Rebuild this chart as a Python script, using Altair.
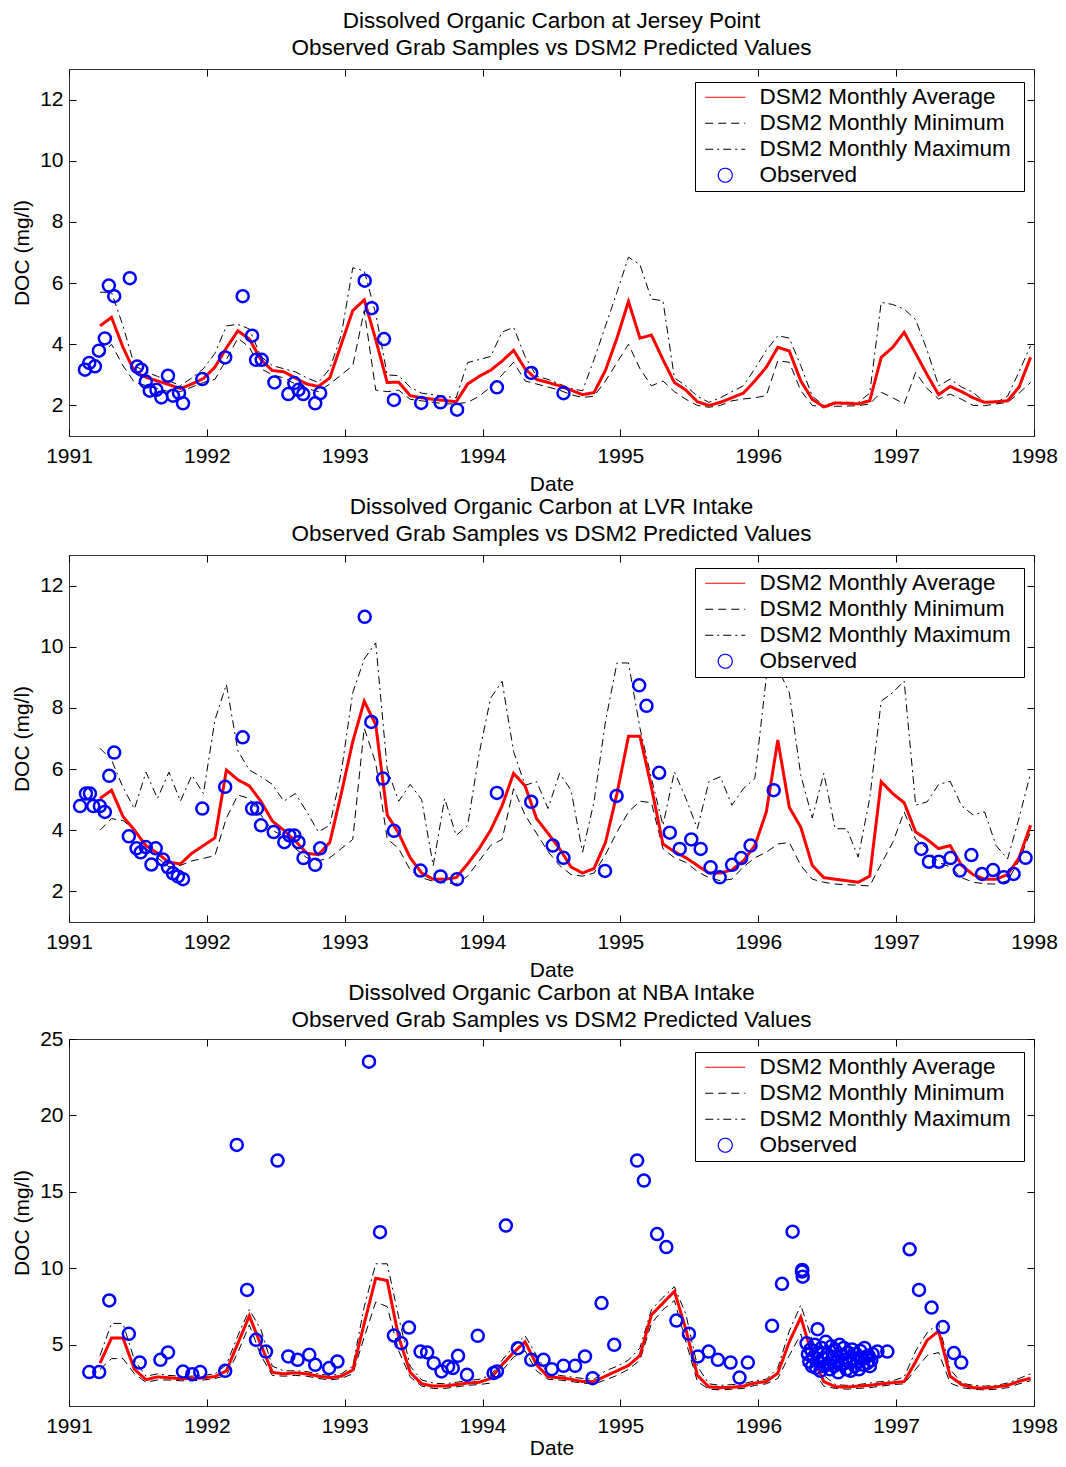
import altair as alt
import pandas as pd

# ---------------- data ----------------
SERIES = ["DSM2 Monthly Average", "DSM2 Monthly Minimum", "DSM2 Monthly Maximum", "Observed"]

# monthly model output times (decimal years)
MONTH_T = [1991 + (i + 2.7) / 12 for i in range(82)]

JP_AVG = [4.6, 4.88, 3.9, 3.1, 2.92, 2.8, 2.68, 2.55, 2.7, 2.88,
          3.25, 3.88, 4.44, 4.17, 3.5, 3.14, 3.1, 2.9, 2.7, 2.62,
          2.9, 4.0, 5.1, 5.45, 4.15, 2.75, 2.76, 2.32, 2.25, 2.2,
          2.16, 2.12, 2.7, 2.95, 3.15, 3.45, 3.8, 3.2, 2.85, 2.75,
          2.64, 2.5, 2.35, 2.42, 3.15, 4.2, 5.4, 4.2, 4.3, 3.5,
          2.75, 2.5, 2.12, 2.0, 2.1, 2.25, 2.4, 2.8, 3.25, 3.9,
          3.78, 2.8, 2.2, 1.95, 2.08, 2.07, 2.05, 2.15, 3.57, 3.9,
          4.39, 3.7, 3.0, 2.35, 2.62, 2.45, 2.25, 2.1, 2.12, 2.15,
          2.6, 3.57]
JP_MIN = [3.6, 4.0, 3.3, 2.75, 2.65, 2.55, 2.45, 2.45, 2.6, 2.75,
          2.85, 3.5, 4.2, 3.9, 3.2, 3.0, 2.9, 2.7, 2.55, 2.45,
          2.7, 3.0, 3.3, 5.1, 2.5, 2.45, 2.5, 2.2, 2.15, 2.1,
          2.05, 2.05, 2.1, 2.3, 2.6, 3.0, 3.41, 2.8, 2.7, 2.6,
          2.5, 2.35, 2.26, 2.3, 2.8, 3.4, 4.0, 3.2, 2.64, 2.8,
          2.45, 2.2, 2.0, 1.94, 2.0, 2.15, 2.21, 2.25, 2.32, 3.46,
          3.41, 2.48, 2.0, 1.95, 1.97, 1.98, 1.99, 2.05, 2.43, 2.25,
          2.05, 3.08, 2.55, 2.21, 2.37, 2.2, 2.0, 1.99, 2.05, 2.1,
          2.4, 2.75]
JP_MAX = [5.7, 5.7, 4.6, 3.3, 3.1, 2.95, 2.8, 2.65, 2.9, 3.2,
          3.7, 4.6, 4.65, 4.5, 3.6, 3.3, 3.2, 3.1, 2.9, 2.75,
          3.2, 4.3, 6.5, 6.4, 5.0, 3.0, 2.97, 2.6, 2.4, 2.35,
          2.3, 2.25, 3.4, 3.5, 3.6, 4.4, 4.55, 3.6, 2.95, 2.85,
          2.7, 2.55, 2.48, 3.5, 4.6, 5.7, 6.85, 6.6, 5.48, 5.42,
          2.9, 2.64, 2.3, 2.1, 2.25, 2.45, 2.64, 3.2, 3.8, 4.28,
          4.2, 3.3, 2.3, 2.0, 2.1, 2.1, 2.1, 2.4, 5.37, 5.3,
          5.15, 4.8, 3.8, 2.64, 2.86, 2.6, 2.43, 2.1, 2.1, 2.3,
          3.1, 3.95]
JP_OBS_T = [1991.116, 1991.147, 1991.188, 1991.217, 1991.26, 1991.289, 1991.328, 1991.441,
            1991.494, 1991.525, 1991.557, 1991.586, 1991.634, 1991.67, 1991.718, 1991.754,
            1991.798, 1991.827, 1991.967, 1992.133, 1992.26, 1992.328, 1992.357, 1992.398,
            1992.49, 1992.591, 1992.634, 1992.665, 1992.699, 1992.786, 1992.822, 1993.145,
            1993.196, 1993.285, 1993.357, 1993.555, 1993.695, 1993.815, 1994.104, 1994.353,
            1994.587]
JP_OBS_V = [3.17, 3.39, 3.28, 3.79, 4.19, 5.92, 5.57, 6.16, 3.27, 3.17,
            2.78, 2.48, 2.51, 2.26, 2.97, 2.32, 2.41, 2.07, 2.86, 3.57,
            5.57, 4.28, 3.49, 3.49, 2.75, 2.37, 2.73, 2.51, 2.37, 2.07,
            2.40, 6.08, 5.18, 4.17, 2.18, 2.08, 2.10, 1.86, 2.59, 3.06,
            2.40]

LVR_AVG = [5.04, 5.31, 4.45, 4.0, 3.5, 3.25, 2.95, 2.9, 3.25, 3.5,
           3.75, 5.97, 5.65, 5.45, 4.95, 4.3, 4.0, 3.65, 3.25, 3.2,
           3.6, 5.2, 6.9, 8.22, 7.45, 4.5, 3.9, 3.1, 2.6, 2.4,
           2.4, 2.45, 2.9, 3.4, 4.0, 4.8, 5.86, 5.45, 4.38, 3.9,
           3.4, 2.8, 2.6, 2.75, 3.6, 5.2, 7.07, 7.07, 5.4, 3.55,
           3.3, 3.1, 2.85, 2.6, 2.6, 2.7, 3.0, 3.5, 4.6, 6.95,
           4.75, 4.1, 2.85, 2.45, 2.4, 2.35, 2.3, 2.5, 5.59, 5.2,
           4.9, 3.94, 3.7, 3.4, 3.5, 2.85, 2.55, 2.4, 2.4, 2.55,
           3.1, 4.16]
LVR_MIN = [4.0, 4.38, 4.32, 4.0, 3.4, 3.1, 2.8, 2.85, 3.0, 3.08,
           3.17, 4.4, 5.15, 5.04, 4.5, 4.0, 3.8, 3.4, 3.1, 3.0,
           3.1, 3.4, 3.7, 7.34, 6.2, 3.72, 3.4, 2.7, 2.45, 2.33,
           2.28, 2.25, 2.5, 3.0, 3.5, 3.7, 5.36, 4.5, 3.9, 3.3,
           2.85, 2.55, 2.5, 2.6, 3.2, 3.94, 4.6, 4.95, 4.9, 3.4,
           3.1, 2.95, 2.65, 2.45, 2.35, 2.4, 2.8, 3.1, 3.28, 3.55,
           3.6, 2.85, 2.4, 2.3, 2.24, 2.22, 2.2, 2.18, 2.9, 3.6,
           4.6, 3.7, 3.4, 2.95, 2.8, 2.45, 2.3, 2.25, 2.24, 2.35,
           3.0, 3.94]
LVR_MAX = [6.68, 6.3, 5.4, 4.7, 5.9, 5.04, 5.9, 4.95, 5.8, 5.2,
           7.6, 8.77, 6.6, 5.97, 5.75, 5.5, 4.95, 5.2, 4.6, 3.95,
           4.16, 5.9, 8.5, 9.6, 10.13, 6.0, 4.95, 5.5, 5.0, 2.84,
           5.04, 3.83, 4.16, 6.5, 8.32, 8.87, 6.57, 5.47, 5.59, 4.71,
           5.86, 5.31, 3.28, 4.93, 7.56, 9.47, 9.47, 7.34, 5.69, 4.16,
           5.91, 5.04, 4.05, 5.59, 5.75, 4.82, 5.36, 5.69, 9.0, 9.3,
           8.5, 5.8, 4.4, 5.86, 4.05, 4.05, 3.12, 5.04, 8.22, 8.5,
           8.88, 4.82, 4.93, 5.5, 5.6, 4.8, 4.5, 4.6, 3.5, 3.06,
           4.4, 5.86]
LVR_OBS_T = [1991.08, 1991.123, 1991.152, 1991.176, 1991.224, 1991.26, 1991.292, 1991.328,
             1991.434, 1991.49, 1991.52, 1991.557, 1991.598, 1991.629, 1991.682, 1991.718,
             1991.754, 1991.79, 1991.827, 1991.967, 1992.133, 1992.26, 1992.328, 1992.364,
             1992.393, 1992.485, 1992.562, 1992.598, 1992.634, 1992.665, 1992.701, 1992.786,
             1992.822, 1993.145, 1993.193, 1993.278, 1993.357, 1993.55, 1993.695, 1993.815,
             1994.104, 1994.353, 1994.509, 1994.587, 1994.888, 1994.972, 1995.136, 1995.189,
             1995.281, 1995.358, 1995.43, 1995.514, 1995.582, 1995.654, 1995.72, 1995.81,
             1995.876, 1995.944, 1996.112, 1997.182, 1997.238, 1997.31, 1997.394, 1997.462,
             1997.546, 1997.623, 1997.703, 1997.78, 1997.852, 1997.939]
LVR_OBS_V = [4.79, 5.20, 5.20, 4.79, 4.79, 4.60, 5.78, 6.54, 3.80, 3.41,
             3.28, 3.45, 2.88, 3.41, 3.04, 2.79, 2.59, 2.49, 2.40, 4.71,
             5.42, 7.04, 4.71, 4.71, 4.16, 3.94, 3.61, 3.83, 3.83, 3.61,
             3.09, 2.87, 3.41, 10.98, 7.54, 5.69, 3.98, 2.68, 2.49, 2.40,
             5.22, 4.93, 3.50, 3.10, 2.67, 5.12, 8.74, 8.07, 5.88, 3.92,
             3.39, 3.70, 3.39, 2.79, 2.46, 2.87, 3.09, 3.50, 5.31, 3.39,
             2.97, 2.97, 3.09, 2.68, 3.19, 2.57, 2.70, 2.46, 2.57, 3.10]

NBA_AVG = [3.8, 5.44, 5.44, 3.4, 2.72, 2.9, 2.85, 2.78, 2.8, 2.85,
           2.92, 3.3, 5.1, 6.9, 5.0, 3.2, 3.1, 3.17, 3.1, 2.95,
           2.85, 2.95, 3.35, 6.4, 9.36, 9.2, 5.5, 3.2, 2.45, 2.3,
           2.3, 2.4, 2.5, 2.55, 2.8, 3.7, 4.5, 5.2, 3.7, 2.9,
           2.85, 2.75, 2.6, 2.6, 2.95, 3.3, 3.65, 4.3, 6.96, 7.73,
           8.5, 6.0, 3.0, 2.25, 2.2, 2.22, 2.3, 2.5, 2.6, 3.15,
           5.2, 6.8, 4.3, 2.6, 2.26, 2.24, 2.3, 2.35, 2.45, 2.52,
           2.6, 3.9, 5.3, 5.9, 2.95, 2.4, 2.2, 2.17, 2.25, 2.35,
           2.62, 2.82]
NBA_MIN = [3.4, 4.1, 4.1, 3.1, 2.55, 2.7, 2.7, 2.65, 2.65, 2.7,
           2.8, 3.0, 4.5, 6.3, 4.3, 3.0, 2.95, 3.0, 2.95, 2.8,
           2.7, 2.8, 3.1, 5.5, 7.8, 7.5, 4.6, 2.9, 2.3, 2.15,
           2.15, 2.25, 2.35, 2.4, 2.5, 3.3, 4.2, 4.6, 3.3, 2.75,
           2.7, 2.6, 2.5, 2.45, 2.7, 3.0, 3.4, 4.0, 6.4, 7.3,
           7.9, 5.2, 2.6, 2.1, 2.05, 2.1, 2.15, 2.35, 2.45, 2.8,
           4.3, 5.7, 3.4, 2.3, 2.15, 2.1, 2.15, 2.2, 2.3, 2.4,
           2.45, 3.4, 4.3, 4.5, 2.5, 2.2, 2.1, 2.05, 2.1, 2.2,
           2.45, 2.65]
NBA_MAX = [4.3, 6.4, 6.4, 4.0, 2.95, 3.1, 3.0, 2.95, 2.95, 3.0,
           3.1, 3.7, 5.6, 7.3, 6.0, 3.6, 3.3, 3.3, 3.25, 3.1,
           3.0, 3.1, 3.6, 7.5, 10.3, 10.3, 6.8, 3.6, 2.7, 2.5,
           2.45, 2.55, 2.65, 2.75, 3.0, 4.0, 4.9, 5.6, 4.3, 3.1,
           3.0, 2.9, 2.8, 2.75, 3.3, 3.6, 4.0, 4.8, 7.3, 8.1,
           8.8, 7.0, 3.6, 2.45, 2.35, 2.4, 2.45, 2.65, 2.75, 3.5,
           5.9, 7.6, 5.3, 3.0, 2.4, 2.35, 2.4, 2.5, 2.6, 2.65,
           2.9, 4.6, 5.8, 6.4, 3.4, 2.5, 2.35, 2.3, 2.35, 2.5,
           2.8, 3.1]
NBA_OBS_T = [1991.147, 1991.219, 1991.292, 1991.434, 1991.513, 1991.663, 1991.718, 1991.827,
             1991.894, 1991.952, 1992.133, 1992.217, 1992.292, 1992.357, 1992.429, 1992.513,
             1992.591, 1992.658, 1992.743, 1992.786, 1992.887, 1992.947, 1993.176, 1993.256,
             1993.357, 1993.41, 1993.466, 1993.55, 1993.598, 1993.646, 1993.702, 1993.75,
             1993.784, 1993.822, 1993.887, 1993.965, 1994.08, 1994.104, 1994.169, 1994.256,
             1994.353, 1994.442, 1994.502, 1994.587, 1994.671, 1994.743, 1994.798, 1994.863,
             1994.955, 1995.121, 1995.17, 1995.266, 1995.333, 1995.406, 1995.497, 1995.562,
             1995.64, 1995.707, 1995.799, 1995.864, 1995.924, 1996.1, 1996.172, 1996.249,
             1996.317, 1996.322, 1996.319, 1996.43]
NBA_OBS_V = [3.22, 3.22, 7.9, 5.72, 3.84, 4.02, 4.5, 3.25, 3.08, 3.22,
             3.3, 18.07, 8.59, 5.33, 4.56, 17.05, 4.24, 4.02, 4.35, 3.69,
             3.48, 3.91, 23.52, 12.37, 5.61, 5.11, 6.13, 4.56, 4.5, 3.8,
             3.26, 3.58, 3.48, 4.28, 3.04, 5.59, 3.15, 3.26, 12.8, 4.78,
             4.02, 4.02, 3.41, 3.63, 3.63, 4.24, 2.82, 7.73, 5.0, 17.05,
             15.74, 12.24, 11.39, 6.59, 5.72, 4.24, 4.56, 4.02, 3.84, 2.86,
             3.84, 6.24, 8.99, 12.4, 9.79, 9.46, 9.9, 6.02]
# intensive 1996 sampling cluster
NBA_CLUSTER_T = [1996.35, 1996.36, 1996.37, 1996.38, 1996.39, 1996.40, 1996.41, 1996.42, 1996.43,
                 1996.44, 1996.45, 1996.46, 1996.47, 1996.48, 1996.49, 1996.50, 1996.51, 1996.52,
                 1996.53, 1996.54, 1996.55, 1996.56, 1996.57, 1996.58, 1996.59, 1996.60, 1996.61,
                 1996.62, 1996.63, 1996.64, 1996.65, 1996.66, 1996.67, 1996.68, 1996.69, 1996.70,
                 1996.71, 1996.72, 1996.73, 1996.74, 1996.75, 1996.76, 1996.77, 1996.78, 1996.79,
                 1996.80, 1996.81, 1996.82, 1996.83]
NBA_CLUSTER_V = [5.1, 4.4, 3.9, 4.7, 3.6, 4.2, 5.0, 3.5, 4.5,
                 3.9, 3.3, 4.8, 4.1, 3.6, 5.2, 4.4, 3.8, 3.4,
                 4.9, 4.2, 3.6, 4.6, 3.9, 3.2, 5.0, 4.3, 3.7,
                 4.8, 4.0, 3.4, 4.5, 3.9, 3.3, 4.7, 4.1, 3.6,
                 4.4, 3.9, 3.4, 4.6, 4.1, 3.7, 4.8, 4.2, 3.8,
                 4.3, 3.6, 4.0, 4.4]
NBA_LATE_T = [1996.864, 1996.936, 1997.098, 1997.166, 1997.257, 1997.339, 1997.419, 1997.472]
NBA_LATE_V = [4.56, 4.56, 11.25, 8.59, 7.44, 6.16, 4.46, 3.84]

YEAR_TICKS = [1991, 1992, 1993, 1994, 1995, 1996, 1997, 1998]

# ---------------- styling ----------------
FONT = "Liberation Sans"
W, H = 965, 367
COLORS = ["#ff0000", "#000000", "#000000", "#0000ff"]
DASHES = [[1, 0], [8, 5], [8, 4, 2, 4], [1, 0]]
LINE_PATH = "M -2.86 0 L 2.86 0"
SHAPES = [LINE_PATH, LINE_PATH, LINE_PATH, "circle"]


def panel(title_lines, avg, mn, mx, obs_t, obs_v, ydom, yticks, title_offset, date_pad):
    rows = []
    for name, vals in ((SERIES[0], avg), (SERIES[1], mn), (SERIES[2], mx)):
        for t, v in zip(MONTH_T, vals):
            rows.append({"t": t, "v": v, "s": name})
    lines = pd.DataFrame(rows)
    obs = pd.DataFrame({"t": obs_t, "v": obs_v, "s": [SERIES[3]] * len(obs_t)})

    legend = alt.Legend(
        title=" ", titleOrient="right", titleFontSize=12, titlePadding=9,
        orient="none", legendX=626, legendY=13,
        fillColor="white", strokeColor="black", padding=4,
        symbolOffset=15, labelOffset=23, labelFontSize=22.5, labelFont=FONT,
        labelColor="black", labelLimit=400, symbolSize=196,
        symbolStrokeWidth=1.2, symbolFillColor="transparent", rowPadding=3,
    )
    color = alt.Color("s:N", scale=alt.Scale(domain=SERIES, range=COLORS), legend=legend)
    dash = alt.StrokeDash("s:N", scale=alt.Scale(domain=SERIES, range=DASHES), legend=legend)
    shape = alt.Shape("s:N", scale=alt.Scale(domain=SERIES, range=SHAPES), legend=legend)

    x = alt.X("t:Q", scale=alt.Scale(domain=[1991, 1998], nice=False, zero=False),
              axis=alt.Axis(values=YEAR_TICKS, format="d", title="Date", labelFlush=False,
                            grid=True, gridDash=[7, H - 14, 7, 3000], gridColor="#000000",
                            gridOpacity=1, gridWidth=1, ticks=False, domain=False,
                            labelPadding=9, titlePadding=date_pad))
    y = alt.Y("v:Q", scale=alt.Scale(domain=ydom, nice=False, zero=False),
              axis=alt.Axis(values=yticks, title="DOC (mg/l)", labelFlush=False,
                            grid=True, gridDash=[7, W - 14, 7, 3000], gridColor="#000000",
                            gridOpacity=1, gridWidth=1, ticks=False, domain=False,
                            labelPadding=6, titlePadding=7))

    mm = alt.Chart(lines).transform_filter(alt.datum.s != SERIES[0]).mark_line(
        strokeWidth=1).encode(x=x, y=y, color=color, strokeDash=dash)
    av = alt.Chart(lines).transform_filter(alt.datum.s == SERIES[0]).mark_line(
        strokeWidth=3).encode(x=x, y=y, color=color, strokeDash=dash)
    pts = alt.Chart(obs).mark_point(filled=False, size=144, strokeWidth=2.5, opacity=1).encode(
        x=x, y=y, color=color, shape=shape)

    return alt.layer(mm, av, pts).properties(
        width=W, height=H,
        title=alt.TitleParams(text=title_lines, fontSize=22.5, fontWeight="normal", font=FONT,
                              anchor="middle", frame="group", offset=title_offset, lineHeight=27,
                              color="black"),
    )


p1 = panel(["Dissolved Organic Carbon at Jersey Point", "Observed Grab Samples vs DSM2 Predicted Values"],
           JP_AVG, JP_MIN, JP_MAX, JP_OBS_T, JP_OBS_V, [1, 13], [2, 4, 6, 8, 10, 12], 10, 7)
p2 = panel(["Dissolved Organic Carbon at LVR Intake", "Observed Grab Samples vs DSM2 Predicted Values"],
           LVR_AVG, LVR_MIN, LVR_MAX, LVR_OBS_T, LVR_OBS_V, [1, 13], [2, 4, 6, 8, 10, 12], 10, 7)
p3 = panel(["Dissolved Organic Carbon at NBA Intake", "Observed Grab Samples vs DSM2 Predicted Values"],
           NBA_AVG, NBA_MIN, NBA_MAX,
           NBA_OBS_T + NBA_CLUSTER_T + NBA_LATE_T, NBA_OBS_V + NBA_CLUSTER_V + NBA_LATE_V,
           [1, 25], [5, 10, 15, 20, 25], -3, 1)

chart = alt.vconcat(p1, p2, p3, spacing=0).resolve_scale(
    x="independent", y="independent", color="independent",
    strokeDash="independent", shape="independent",
).properties(
    padding={"left": 3, "top": 1, "right": 0, "bottom": 0},
).configure(font=FONT).configure_view(
    stroke="#333333", strokeWidth=1,
).configure_axis(
    labelFontSize=21, titleFontSize=21, titleFontWeight="normal",
    labelColor="black", titleColor="black", labelFont=FONT, titleFont=FONT,
)

chart.save("out.html", embed_options={"renderer": "svg", "actions": False})
